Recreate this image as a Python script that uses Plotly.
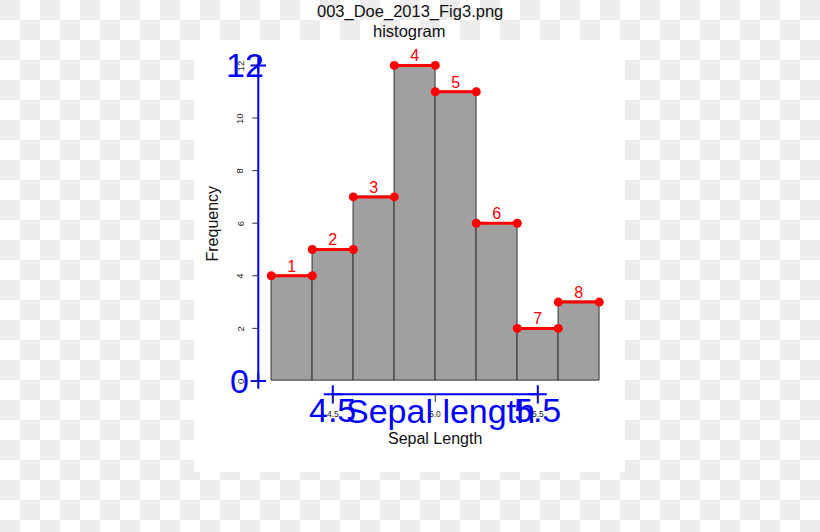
import numpy as np
import plotly.graph_objects as go

# ---------------- data ----------------
bin_starts = [4.2, 4.4, 4.6, 4.8, 5.0, 5.2, 5.4, 5.6]
bin_width = 0.2
frequency = [4, 5, 7, 12, 11, 6, 2, 3]
segment_labels = ["1", "2", "3", "4", "5", "6", "7", "8"]
y_ticks = [0, 2, 4, 6, 8, 10, 12]
x_ticks = [4.5, 5.0, 5.5]
x_tick_labels = ["4.5", "5.0", "5.5"]
blue_x_ticks = [4.5, 5.5]
blue_x_labels = ["4.5", "5.5"]
blue_y_ticks = [0, 12]
blue_y_labels = ["0", "12"]

# ---------------- layout constants (pixels) ----------------
W, H = 820, 532
X0_PX, XS = 435.3, 205.0     # pixel of x=5.0, px per unit
Y0_PX, YS = 381.0, 26.3      # pixel of y=0, px per unit
X_RANGE = [4.05, 5.9]
Y_RANGE = [-0.8, 12.6]
YAXIS_PX = 258.3
XAXIS_PX = 394.3
PANEL = (194, 40, 625, 472)
FONT = "Liberation Sans, Arial, sans-serif"
BLUE = "#0000ff"
RED = "#ff0000"


def px_x(v):
    return X0_PX + (v - 5.0) * XS


def px_y(v):
    return Y0_PX - v * YS


def dx(px):
    return 5.0 + (px - X0_PX) / XS


def dy(px):
    return (Y0_PX - px) / YS


def pap(px, py):
    return px / W, 1 - py / H


YAX = dx(YAXIS_PX)
XAX = dy(XAXIS_PX)

fig = go.Figure()

# ---------------- checkerboard background ----------------
xe = sorted(set(list(range(0, 841, 20)) + [PANEL[0], PANEL[2]]))
ye = sorted(set(list(range(0, 541, 20)) + [PANEL[1], PANEL[3]]))
z = []
for j in range(len(ye) - 1):
    row = []
    cy = (ye[j] + ye[j + 1]) / 2
    for i in range(len(xe) - 1):
        cx = (xe[i] + xe[i + 1]) / 2
        if PANEL[0] <= cx <= PANEL[2] and PANEL[1] <= cy <= PANEL[3]:
            row.append(0)
        else:
            row.append(1 if (int(cx // 20) + int(cy // 20)) % 2 == 0 else 0)
    z.append(row)
fig.add_trace(go.Heatmap(x=xe, y=ye, z=z, zmin=0, zmax=1,
                         colorscale=[[0, "#ffffff"], [1, "#ededed"]],
                         showscale=False, hoverinfo="skip",
                         xaxis="x", yaxis="y"))

# ---------------- histogram bars ----------------
centers = [s + bin_width / 2 for s in bin_starts]
fig.add_trace(go.Bar(x=centers, y=frequency, width=[bin_width] * len(centers),
                     marker=dict(color="#a0a0a0", line=dict(color="#333333", width=1)),
                     xaxis="x2", yaxis="y2", hoverinfo="skip"))

# ---------------- red segments ----------------
sx, sy = [], []
for s, f in zip(bin_starts, frequency):
    sx += [s, s + bin_width, None]
    sy += [f, f, None]
fig.add_trace(go.Scatter(x=sx, y=sy, mode="lines+markers",
                         line=dict(color=RED, width=3),
                         marker=dict(color=RED, size=9),
                         xaxis="x2", yaxis="y2", cliponaxis=False, hoverinfo="skip"))
fig.add_trace(go.Scatter(x=centers, y=frequency, mode="text", text=segment_labels,
                         textposition="top center",
                         textfont=dict(color=RED, size=16, family=FONT),
                         xaxis="x2", yaxis="y2", cliponaxis=False, hoverinfo="skip"))

# ---------------- R-style black ticks ----------------
shapes = []
for v in y_ticks:
    shapes.append(dict(type="line", xref="x2", yref="y2", xsizemode="pixel",
                       xanchor=YAX, x0=-6, x1=0, y0=v, y1=v,
                       line=dict(color="#333333", width=1)))
for v in x_ticks:
    shapes.append(dict(type="line", xref="x2", yref="y2", ysizemode="pixel",
                       yanchor=XAX, y0=0, y1=-8, x0=v, x1=v,
                       line=dict(color="#333333", width=1)))

# ---------------- blue axes ----------------
fig.add_trace(go.Scatter(x=[YAX] * len(blue_y_ticks), y=blue_y_ticks, mode="lines+markers",
                         line=dict(color=BLUE, width=2),
                         marker=dict(symbol="cross-thin", size=11,
                                     line=dict(color=BLUE, width=2)),
                         xaxis="x2", yaxis="y2", cliponaxis=False, hoverinfo="skip"))
fig.add_trace(go.Scatter(x=blue_x_ticks, y=[XAX] * len(blue_x_ticks), mode="lines+markers",
                         line=dict(color=BLUE, width=2),
                         marker=dict(symbol="cross-thin", size=13,
                                     line=dict(color=BLUE, width=2)),
                         xaxis="x2", yaxis="y2", cliponaxis=False, hoverinfo="skip"))


def note(px, py, text, size, color, angle=0):
    x, y = pap(px, py)
    return dict(x=x, y=y, xref="paper", yref="paper", xanchor="center", yanchor="middle",
                text=text, textangle=angle, showarrow=False,
                font=dict(size=size, color=color, family=FONT))


ann = []
# black R tick labels
for v in y_ticks:
    ann.append(note(240, px_y(v), str(v), 9.5, "#222222", -90))
for v, t in zip(x_ticks, x_tick_labels):
    ann.append(note(px_x(v), 414, t, 8.5, "#222222"))
# black axis titles
ann.append(note(435, 438, "Sepal Length", 16, "#111111"))
ann.append(note(212, 223.5, "Frequency", 16, "#111111", -90))
# title
ann.append(note(409.5, 11.7, "003_Doe_2013_Fig3.png", 16.5, "#111111"))
ann.append(note(409, 31, "histogram", 16.5, "#111111"))
# blue big labels
for v, t in zip(blue_x_ticks, blue_x_labels):
    ann.append(note(px_x(v), 410, t, 34, BLUE))
ann.append(note(440, 411, "Sepal length", 34, BLUE))
blue_y_label_px = [240, 245]
for v, t, p in zip(blue_y_ticks, blue_y_labels, blue_y_label_px):
    ann.append(note(p, px_y(v), t, 34, BLUE))

fig.update_layout(
    width=W, height=H,
    margin=dict(l=0, r=0, t=0, b=0, pad=0),
    paper_bgcolor="#ffffff",
    plot_bgcolor="rgba(0,0,0,0)",
    showlegend=False,
    bargap=0,
    xaxis=dict(domain=[0, 1], range=[0, W], visible=False, fixedrange=True),
    yaxis=dict(domain=[0, 1], range=[H, 0], visible=False, fixedrange=True),
    xaxis2=dict(domain=[px_x(X_RANGE[0]) / W, px_x(X_RANGE[1]) / W], range=X_RANGE,
                visible=False, anchor="y2"),
    yaxis2=dict(domain=[1 - px_y(Y_RANGE[0]) / H, 1 - px_y(Y_RANGE[1]) / H], range=Y_RANGE,
                visible=False, anchor="x2"),
    shapes=shapes,
    annotations=ann,
)

fig.write_html("out.html")
